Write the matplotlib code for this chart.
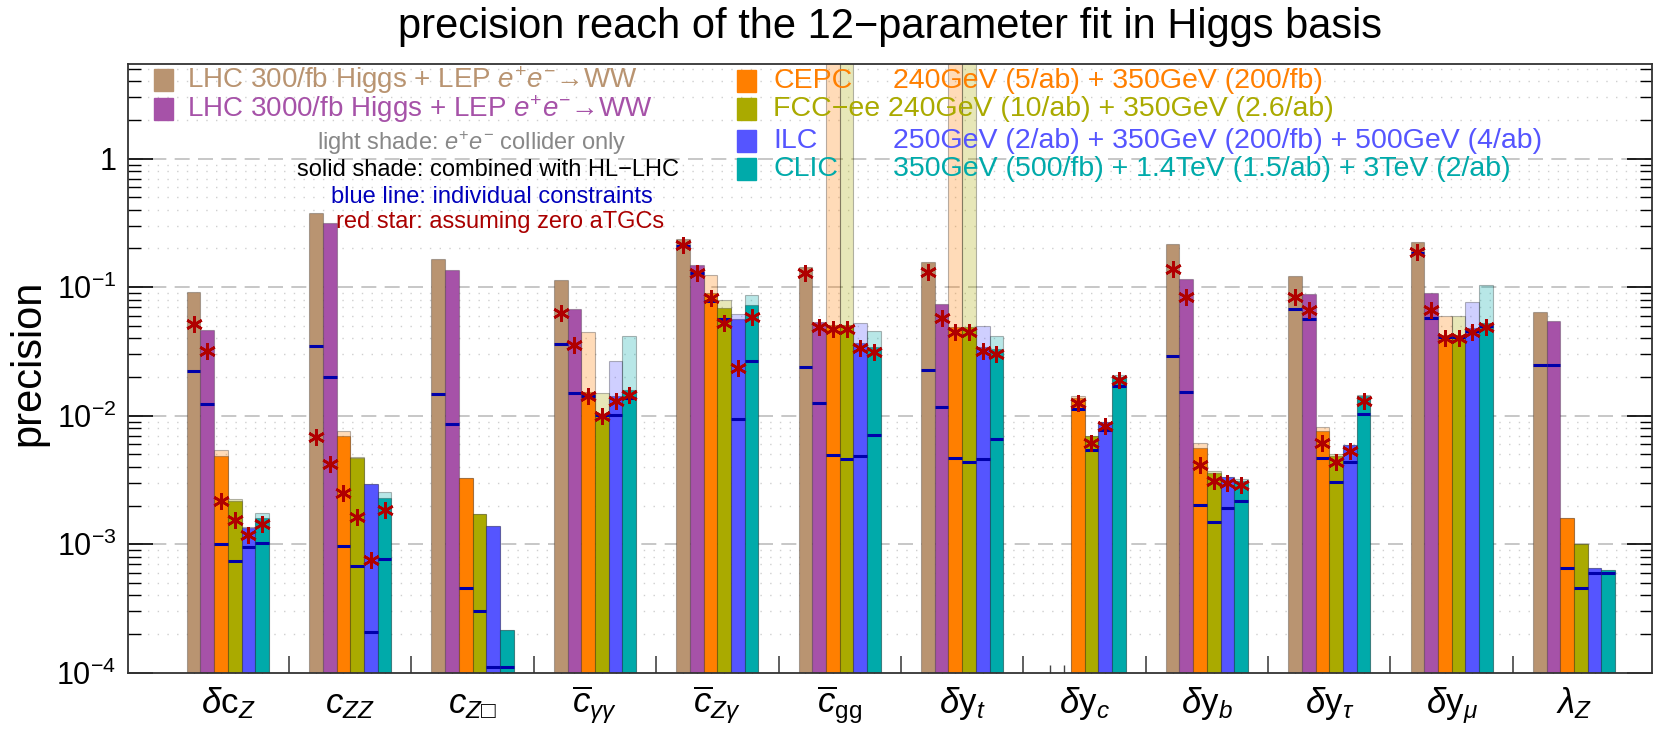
import numpy as np
import matplotlib
matplotlib.use("Agg")
import matplotlib.pyplot as plt
from matplotlib.patches import Rectangle
from matplotlib.ticker import FixedLocator, NullFormatter

plt.rcParams["font.family"] = ["Liberation Sans", "DejaVu Sans"]
plt.rcParams["mathtext.fontset"] = "custom"
plt.rcParams["mathtext.rm"] = "Liberation Sans"
plt.rcParams["mathtext.it"] = "Liberation Sans:italic"
plt.rcParams["mathtext.bf"] = "Liberation Sans:bold"
plt.rcParams["mathtext.fallback"] = "stix"

nan = np.nan

params = [r"$\delta\mathrm{c}_Z$", r"$c_{ZZ}$", "$c_{Z\u25a1}$",
          r"$\overline{c}_{\gamma\gamma}$", r"$\overline{c}_{Z\gamma}$",
          r"$\overline{c}_{\mathrm{gg}}$", r"$\delta\mathrm{y}_t$",
          r"$\delta\mathrm{y}_c$", r"$\delta\mathrm{y}_b$",
          r"$\delta\mathrm{y}_\tau$", r"$\delta\mathrm{y}_\mu$", r"$\lambda_Z$"]

# solid shade: combined with HL-LHC (LHC bars are LHC + LEP only)
lhc300 = [0.0914, 0.379, 0.167, 0.113, 0.238, 0.143, 0.156, nan, 0.216, 0.122, 0.224, 0.0646]
lhc3000 = [0.0468, 0.316, 0.137, 0.068, 0.148, 0.054, 0.0737, nan, 0.1154, 0.0887, 0.0908, 0.0547]
cepc = [0.00487, 0.0070, 0.0033, 0.0154, 0.0908, 0.0509, 0.0494, 0.01368, 0.00565, 0.00762, 0.0425, 0.00161]
fcc = [0.00218, 0.00467, 0.00172, 0.01027, 0.0694, 0.051, 0.0494, 0.00697, 0.0036, 0.00487, 0.0425, 0.001]
ilc = [0.00133, 0.00293, 0.00139, 0.0141, 0.0567, 0.037, 0.0345, 0.00889, 0.00332, 0.00593, 0.048, 0.00065]
clic = [0.0016, 0.00228, 0.000215, 0.0159, 0.0724, 0.0345, 0.0329, 0.0201, 0.00311, 0.0141, 0.0525, 0.00063]

# light shade: e+e- collider only
cepc_ee = [0.00542, 0.00757, 0.0033, 0.0449, 0.124, 50, 50, 0.0141, 0.0061, 0.00813, 0.0598, 0.00161]
fcc_ee = [0.00225, 0.00481, 0.00172, 0.01496, 0.0801, 50, 50, 0.00697, 0.00374, 0.00502, 0.0598, 0.001]
ilc_ee = [0.00137, 0.00293, 0.00139, 0.0264, 0.0623, 0.0525, 0.05, 0.00889, 0.00332, 0.00593, 0.0764, 0.00065]
clic_ee = [0.00175, 0.00254, 0.000215, 0.0416, 0.0866, 0.0454, 0.042, 0.0208, 0.00322, 0.0145, 0.1037, 0.00063]

# blue line: individual constraints
ind_lhc300 = [0.0222, 0.0349, 0.01479, 0.0362, 0.2096, 0.0238, 0.0227, nan, 0.0292, 0.0675, 0.186, 0.0249]
ind_lhc3000 = [0.01236, 0.01994, 0.00863, 0.01496, 0.13, 0.0125, 0.01164, nan, 0.01524, 0.0564, 0.058, 0.0249]
ind_cepc = [0.001, 0.00097, 0.000457, 0.01435, 0.0782, 0.00496, 0.00467, 0.0113, 0.00201, 0.00467, 0.0408, 0.00065]
ind_fcc = [0.00074, 0.00068, 0.000303, 0.0101, 0.0567, 0.00458, 0.00434, 0.00542, 0.00149, 0.00304, 0.0408, 0.00046]
ind_ilc = [0.00095, 0.000208, 0.00011, 0.0101, 0.0094, 0.00487, 0.00461, 0.00776, 0.0019, 0.00434, 0.0457, 0.0006]
ind_clic = [0.00102, 0.00077, 0.00011, 0.0138, 0.0267, 0.0071, 0.0066, 0.01706, 0.00217, 0.01027, 0.05, 0.0006]

# red star: assuming zero aTGCs
star_lhc300 = [0.0518, 0.00684, nan, 0.0635, 0.211, 0.13, 0.132, nan, 0.138, 0.0845, 0.189, nan]
star_lhc3000 = [0.0319, 0.00422, nan, 0.0356, 0.1285, 0.0489, 0.0574, nan, 0.0845, 0.0666, 0.0666, nan]
star_cepc = [0.00218, 0.00252, nan, 0.0141, 0.082, 0.0473, 0.0451, 0.0125, 0.00414, 0.00618, 0.0401, nan]
star_fcc = [0.00155, 0.00164, nan, 0.01, 0.0525, 0.0473, 0.0451, 0.00618, 0.00313, 0.00434, 0.0401, nan]
star_ilc = [0.00118, 0.000755, nan, 0.0129, 0.0237, 0.0335, 0.0319, 0.00833, 0.00298, 0.00532, 0.0451, nan]
star_clic = [0.00144, 0.00185, nan, 0.0145, 0.0584, 0.0315, 0.0301, 0.019, 0.00289, 0.0131, 0.0494, nan]

colors = ["#B99471", "#A652A8", "#FF7F00", "#AAAA00", "#5555FF", "#00AAAA"]
solid = [lhc300, lhc3000, cepc, fcc, ilc, clic]
light = [None, None, cepc_ee, fcc_ee, ilc_ee, clic_ee]
indiv = [ind_lhc300, ind_lhc3000, ind_cepc, ind_fcc, ind_ilc, ind_clic]
stars = [star_lhc300, star_lhc3000, star_cepc, star_fcc, star_ilc, star_clic]

W, H = 1667, 734
fig = plt.figure(figsize=(W / 100, H / 100), dpi=100)
ax = fig.add_axes([127.5 / W, 1 - 672.7 / H, (1652 - 127.5) / W, (672.7 - 63.5) / H])
ax.set_yscale("log")
ax.set_ylim(1e-4, 5.5)
ax.set_xlim(-0.82, 11.637)

# grid
for v in [1e-3, 1e-2, 1e-1, 1]:
    ax.axhline(v, color="#BDBDBD", lw=1.2, ls=(0, (9, 5)), zorder=0)
for e in range(-4, 1):
    for m in range(2, 10):
        v = m * 10.0 ** e
        if v < 5.5:
            ax.axhline(v, color="#CFCFCF", lw=1.0, ls=(0, (1, 6)), zorder=0)

bw = 0.112
xg = np.arange(len(params))
floor = 1e-5
centers = []
for j in range(6):
    xs = xg + (j - 2.5) * bw
    centers.extend(xs)
    if light[j] is not None:
        lv = np.array(light[j])
        ax.bar(xs, lv - floor, bottom=floor, width=bw, color=colors[j], alpha=0.28,
               edgecolor=(0, 0, 0, 0.35), linewidth=0.8, zorder=1)
    sv = np.array(solid[j])
    ok = ~np.isnan(sv)
    ax.bar(xs[ok], sv[ok] - floor, bottom=floor, width=bw, color=colors[j],
           edgecolor=(0, 0, 0, 0.25), linewidth=0.8, zorder=2)
    iv = np.array(indiv[j])
    ok = ~np.isnan(iv)
    ax.hlines(iv[ok], xs[ok] - bw / 2, xs[ok] + bw / 2, color="#0000AA", lw=2.2, zorder=3)
    st = np.array(stars[j])
    ok = ~np.isnan(st)
    ax.plot(xs[ok], st[ok], ls="none", marker=(6, 2, 0), ms=12, mew=1.9,
            color="#B00000", zorder=4)

# axes ticks
ax.yaxis.set_major_locator(FixedLocator([1e-4, 1e-3, 1e-2, 1e-1, 1]))
ax.set_yticklabels([r"$10^{-4}$", r"$10^{-3}$", r"$10^{-2}$", r"$10^{-1}$", "1"])
minors = [m * 10.0 ** e for e in range(-4, 1) for m in range(2, 10) if m * 10.0 ** e < 5.5]
ax.yaxis.set_minor_locator(FixedLocator(minors))
ax.yaxis.set_minor_formatter(NullFormatter())
ax.tick_params(axis="y", which="major", direction="in", length=18, width=1.2,
               labelsize=22, right=True, pad=8)
ax.tick_params(axis="y", which="minor", direction="in", length=9, width=1.0, right=True)

ax.xaxis.set_major_locator(FixedLocator(xg[:-1] + 0.5))
ax.xaxis.set_major_formatter(NullFormatter())
ax.xaxis.set_minor_locator(FixedLocator(centers))
ax.tick_params(axis="x", which="major", direction="in", length=12, width=1.2, color="#444444")
ax.tick_params(axis="x", which="minor", direction="in", length=6, width=1.0, color="#444444")
for i, lab in enumerate(params):
    ax.text(i, (672.7 - 713) / 609.2, lab, transform=ax.get_xaxis_transform(),
            ha="center", va="baseline", fontsize=25)

for s in ax.spines.values():
    s.set_linewidth(1.3)
    s.set_color("#333333")

fig.text(28 / W, 1 - 363 / H, "precision", rotation=90, ha="center", va="center",
         fontsize=30)
fig.text(890 / W, 1 - 27 / H, "precision reach of the 12\u2212parameter fit in Higgs basis",
         ha="center", va="center", fontsize=30)


def fx(p):
    return p / W


def fy(p):
    return 1 - p / H


def square(x, y, c):
    fig.add_artist(Rectangle((fx(x), fy(y + 11)), 19 / W, 22 / H, color=c,
                             transform=fig.transFigure))


# legend, left block
square(154, 80, colors[0])
square(154, 109, colors[1])
fig.text(fx(187), fy(80), "LHC 300/fb Higgs + LEP $e^{+}e^{-}$\u2192WW", color=colors[0],
         fontsize=20, va="center")
fig.text(fx(187), fy(109), "LHC 3000/fb Higgs + LEP $e^{+}e^{-}$\u2192WW", color=colors[1],
         fontsize=20, va="center")
notes = [("light shade: $e^{+}e^{-}$ collider only", "#888888", 472, 143),
         ("solid shade: combined with HL\u2212LHC", "black", 488, 170),
         ("blue line: individual constraints", "#0000BB", 492, 197),
         ("red star: assuming zero aTGCs", "#AA0000", 500, 222)]
for t, c, x, y in notes:
    fig.text(fx(x), fy(y), t, color=c, fontsize=17, ha="center", va="center")

# legend, right block
names = ["CEPC", "FCC\u2212ee", "ILC", "CLIC"]
descs = ["240GeV (5/ab) + 350GeV (200/fb)",
         "240GeV (10/ab) + 350GeV (2.6/ab)",
         "250GeV (2/ab) + 350GeV (200/fb) + 500GeV (4/ab)",
         "350GeV (500/fb) + 1.4TeV (1.5/ab) + 3TeV (2/ab)"]
rows = [81, 109, 141, 169]
for k in range(4):
    c = colors[k + 2]
    square(737, rows[k], c)
    if k == 1:
        fig.text(fx(773), fy(rows[k]), names[k] + " " + descs[k], color=c,
                 fontsize=20.5, va="center")
    else:
        fig.text(fx(773), fy(rows[k]), names[k], color=c, fontsize=20.5, va="center")
        fig.text(fx(893), fy(rows[k]), descs[k], color=c, fontsize=20.5, va="center")

fig.savefig("out.png", dpi=100)
